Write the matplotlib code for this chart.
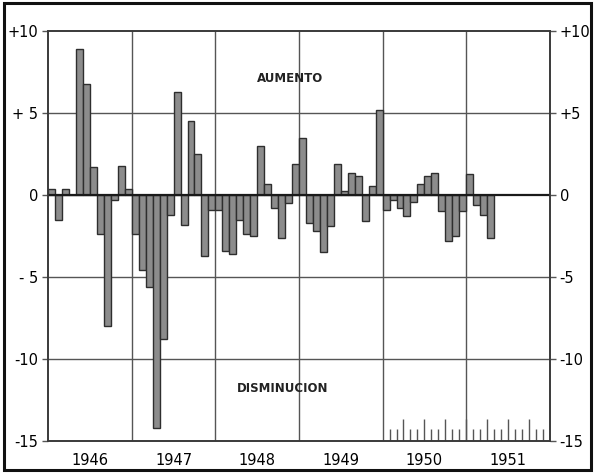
import numpy as np
import matplotlib
matplotlib.use("Agg")
import matplotlib.pyplot as plt
from matplotlib.patches import Rectangle

#----------- Data (monthly change) ------------------------------------
years = ["1946", "1947", "1948", "1949", "1950", "1951"]
vals_1946 = [0.4, -1.5, 0.4, 0.0, 8.9, 6.8, 1.7, -2.4, -8.0, -0.3, 1.8, 0.4]
vals_1947 = [-2.4, -4.6, -5.6, -14.2, -8.8, -1.2, 6.3, -1.8, 4.5, 2.5, -3.7, -0.9]
vals_1948 = [-0.9, -3.4, -3.6, -1.5, -2.4, -2.5, 3.0, 0.7, -0.8, -2.6, -0.5, 1.9]
vals_1949 = [3.5, -1.7, -2.2, -3.5, -1.9, 1.9, 0.25, 1.35, 1.15, -1.6, 0.55, 5.2]
vals_1950 = [-0.9, -0.3, -0.8, -1.3, -0.4, 0.65, 1.15, 1.35, -0.95, -2.8, -2.5, -1.0]
vals_1951 = [1.3, -0.6, -1.2, -2.6]

ytick_vals = [10, 5, 0, -5, -10, -15]
ytick_left = ["+10", "+ 5", "0", "- 5", "-10", "-15"]
ytick_right = ["+10", "+5", "0", "-5", "-10", "-15"]

values = vals_1946 + vals_1947 + vals_1948 + vals_1949 + vals_1950 + vals_1951
months = np.arange(len(values)) + 0.5
n_months = 12 * len(years)

grid_c = "#555555"

fig = plt.figure(figsize=(5.95, 4.73), dpi=100)
fig.patch.set_facecolor("white")
ax = fig.add_axes([0.081, 0.068, 0.843, 0.866])

# grid first
for y in [5, -5, -10]:
    ax.axhline(y, color=grid_c, lw=1.0, zorder=1)
for k in range(1, len(years)):
    ax.axvline(12 * k, color=grid_c, lw=1.0, zorder=1)

ax.bar(months, values, width=1.0, color="#8c8c8c", edgecolor="#2e2e2e",
       linewidth=1.0, zorder=2)
ax.axhline(0, color="#1a1a1a", lw=1.6, zorder=3)

# little month ticks along the base for 1950-1951
for m in range(49, 72):
    h = 1.35 if m % 3 == 0 else 0.75
    ax.vlines(m, -15, -15 + h, color=grid_c, lw=1.0, zorder=1)

ax.set_xlim(0, n_months)
ax.set_ylim(-15, 10)

ax.set_xticks([12 * k + 6 for k in range(len(years))])
ax.set_xticklabels(years, fontsize=10.5)
ax.tick_params(axis="x", length=0, pad=9)

ax.set_yticks(ytick_vals)
ax.set_yticklabels(ytick_left, fontsize=10.5)
ax.tick_params(axis="y", length=4, width=1, color=grid_c, pad=3)

ax2 = ax.twinx()
ax2.set_ylim(-15, 10)
ax2.set_yticks(ytick_vals)
ax2.set_yticklabels(ytick_right, fontsize=10.5)
ax2.tick_params(axis="y", length=4, width=1, color=grid_c, pad=3)

for a in (ax, ax2):
    for s in a.spines.values():
        s.set_color("#3a3a3a")
        s.set_linewidth(1.2)

ax.text(34.7, 7.1, "AUMENTO", ha="center", va="center", fontsize=8.5,
        fontweight="bold", color="#222222", zorder=4)
ax.text(33.7, -11.8, "DISMINUCION", ha="center", va="center", fontsize=8.5,
        fontweight="bold", color="#222222", zorder=4)

# outer frame of the figure
fig.patches.append(Rectangle((0.006, 0.006), 0.988, 0.988, transform=fig.transFigure,
                             fill=False, edgecolor="#111111", linewidth=2.2))

fig.savefig("out.png", dpi=100)
